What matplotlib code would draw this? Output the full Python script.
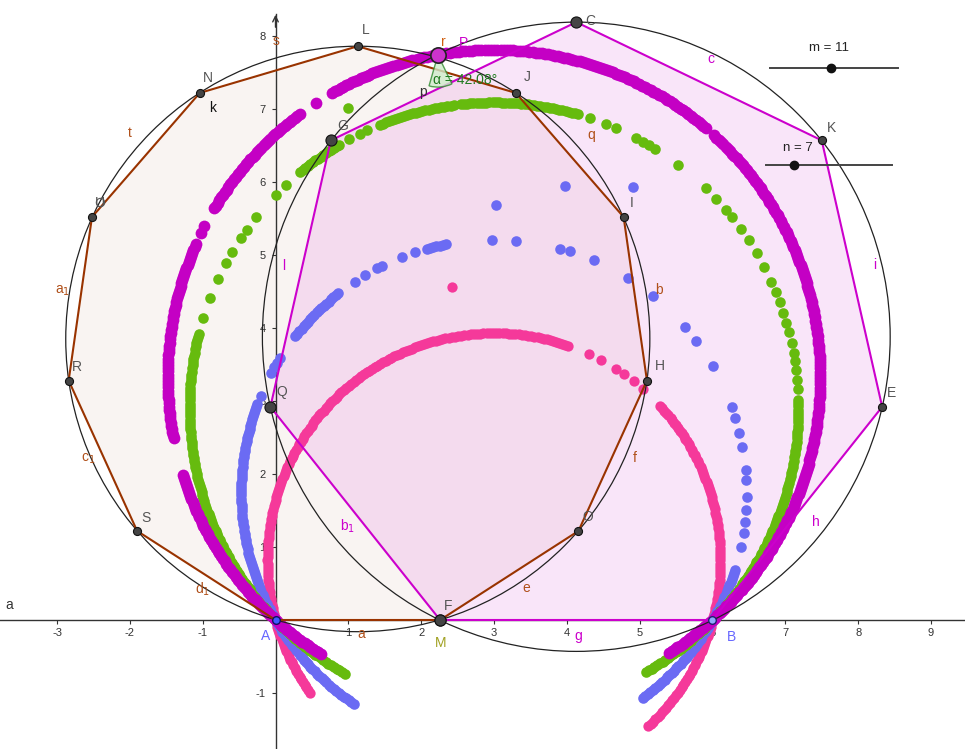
import numpy as np
import matplotlib
matplotlib.use('Agg')
import matplotlib.pyplot as plt
from matplotlib.patches import Polygon, Circle, Wedge

plt.rcParams['font.family'] = ['Liberation Sans', 'DejaVu Sans']
plt.rcParams['axes.unicode_minus'] = False

# ------------------------- data -------------------------
# regular 11-gon (m = 11) on side AF
poly11_x = [0.00, 2.26, 4.16, 5.10, 4.78, 3.30, 1.13, -1.04, -2.52, -2.84, -1.90]
poly11_y = [0.00, 0.00, 1.22, 3.28, 5.52, 7.22, 7.86, 7.22, 5.52, 3.28, 1.22]
poly11_names = ['A', 'F', 'O', 'H', 'I', 'J', 'L', 'N', 'U', 'R', 'S']
circ11 = (1.13, 3.85, 4.01)

# regular heptagon (n = 7) on side FB
poly7_x = [2.26, 6.00, 8.33, 7.50, 4.13, 0.76, -0.07]
poly7_y = [0.00, 0.00, 2.92, 6.57, 8.19, 6.57, 2.92]
poly7_names = ['F', 'B', 'E', 'K', 'C', 'G', 'Q']
circ7 = (4.13, 3.88, 4.31)

P_pt = (2.23, 7.74)
alpha_deg = 42.08

x_ticks = [-3, -2, -1, 1, 2, 3, 4, 5, 6, 7, 8, 9]
y_ticks = [-1, 1, 2, 3, 4, 5, 6, 7, 8]

# traces (loci through A and B): circle centre/radius, dense arcs (deg), single dots (deg), stray dots
mag_circle = (3.0, 3.33, 4.48)
mag_dense = [(-57.5, 48), (49.5, 120), (126.5, 149.5), (156, 191), (197.5, 238)]
mag_single = [123, 152.6, 153.8]
mag_stray_x, mag_stray_y = [], []

grn_circle = (3.0, 2.91, 4.18)
grn_dense = [(-60, 2.0), (74, 96.3), (97.6, 112.5), (120.5, 130), (166, 241)]
grn_single = [3.5, 5.2, 7.1, 8.7, 10.3, 12.2, 14.4, 16.1, 18.1, 20.3, 22.3, 24.3, 27.4,
              30.4, 33.2, 35.9, 38.6, 40.3, 43.2, 45.9, 52.7, 58.0, 59.4, 60.6, 62.1,
              66.3, 68.4, 71.7, 114.6, 116.2, 118.5, 133.2, 135.8, 141.4, 144.3, 146.3,
              149.4, 151.7, 155.1, 158.9, 162.9]
grn_stray_x, grn_stray_y = [0.99], [7.01]

blu_circle = (3.0, 1.74, 3.47)
blu_dense = [(-54, -17), (101, 105.5), (128, 142.5), (159.5, 237)]
blu_single = [-12.4, -9.1, -6.6, -3.9, -0.9, 3.0, 5.2, 10.5, 13.8, 17.3, 19.9, 30.0,
              36.9, 40.8, 51.1, 58.1, 66.8, 72.5, 74.8, 85.0, 90.5, 108.2, 111.4, 116.4,
              117.5, 120.6, 123.4, 147.8, 149.0, 150.3, 151.8, 157.4]
blu_stray_x, blu_stray_y = [3.03, 3.97, 4.91], [5.68, 5.95, 5.93]

pnk_circle = (3.0, 0.82, 3.11)
pnk_dense = [(-47, 43.4), (70.8, 216)]
pnk_single = [49.0, 51.9, 55.1, 57.5, 61.8, 65.2]
pnk_stray_x, pnk_stray_y = [2.42], [4.56]

# ------------------------------ drawing ------------------------------
W, H = 965, 749
fig = plt.figure(figsize=(W / 100, H / 100), dpi=100)
ax = fig.add_axes([0, 0, 1, 1])
X0PX, Y0PX, SX, SY = 275.5, 620.0, 72.83, 73.0
XMIN, XMAX = -X0PX / SX, (W - X0PX) / SX
YMIN, YMAX = -(H - Y0PX) / SY, Y0PX / SY
ax.set_xlim(XMIN, XMAX)
ax.set_ylim(YMIN, YMAX)


def D(px, py):
    return ((px - X0PX) / SX, (Y0PX - py) / SY)


# axes
for s in ['top', 'right']:
    ax.spines[s].set_visible(False)
ax.spines['bottom'].set_position(('data', 0))
ax.spines['left'].set_position(('data', 0))
ax.spines['left'].set_bounds(YMIN, D(0, 14)[1])
for s in ['bottom', 'left']:
    ax.spines[s].set_color('#333333')
    ax.spines[s].set_linewidth(1.0)
    ax.spines[s].set_zorder(2)
ax.set_xticks(x_ticks)
ax.set_yticks(y_ticks)
ax.set_xticklabels([str(v) for v in x_ticks])
ax.set_yticklabels([str(v) for v in y_ticks])
ax.tick_params(axis='both', direction='out', length=3, width=0.8, color='#333333',
               labelsize=8, labelcolor='#333333')
ax.tick_params(axis='x', pad=3)
ax.tick_params(axis='y', pad=4)
ax.annotate('', xy=D(275.5, 12), xytext=D(275.5, 30),
            arrowprops=dict(arrowstyle='->', color='#333333', lw=1.0, mutation_scale=10))

# polygon fills
ax.add_patch(Polygon(list(zip(poly11_x, poly11_y)), closed=True, facecolor='#993300',
                     alpha=0.05, edgecolor='none', zorder=1))
ax.add_patch(Polygon(list(zip(poly7_x, poly7_y)), closed=True, facecolor='#CC00CC',
                     alpha=0.10, edgecolor='none', zorder=1))


def draw_trace(circle, dense, single, sx, sy, color, size):
    cx, cy, r = circle
    step = np.degrees(3.2 / (r * SX))
    xs, ys = [], []
    for a0, a1 in dense:
        th = np.radians(np.arange(a0, a1 + 1e-9, step))
        xs.extend(cx + r * np.cos(th))
        ys.extend(cy + r * np.sin(th))
    th = np.radians(np.array(single, dtype=float))
    xs.extend(cx + r * np.cos(th))
    ys.extend(cy + r * np.sin(th))
    xs.extend(sx)
    ys.extend(sy)
    ax.scatter(xs, ys, s=size, color=color, linewidths=0, zorder=3)


draw_trace(pnk_circle, pnk_dense, pnk_single, pnk_stray_x, pnk_stray_y, '#F5399A', 55)
draw_trace(blu_circle, blu_dense, blu_single, blu_stray_x, blu_stray_y, '#6B6BF3', 58)
draw_trace(grn_circle, grn_dense, grn_single, grn_stray_x, grn_stray_y, '#66BB0E', 58)
draw_trace(mag_circle, mag_dense, mag_single, mag_stray_x, mag_stray_y, '#C400C4', 72)

# circumcircles
for (cx, cy, r) in [circ11, circ7]:
    ax.add_patch(Circle((cx, cy), r, fill=False, edgecolor='#222222', lw=0.9, zorder=4))

# polygon edges
ax.add_patch(Polygon(list(zip(poly11_x, poly11_y)), closed=True, fill=False,
                     edgecolor='#993300', lw=1.5, zorder=5))
ax.add_patch(Polygon(list(zip(poly7_x, poly7_y)), closed=True, fill=False,
                     edgecolor='#CC00CC', lw=1.5, zorder=5))

# angle at P
a_dir = np.degrees(np.arctan2(poly11_y[0] - P_pt[1], poly11_x[0] - P_pt[0]))
b_dir = np.degrees(np.arctan2(poly7_y[1] - P_pt[1], poly7_x[1] - P_pt[0]))
ax.add_patch(Wedge(P_pt, 0.44, a_dir, b_dir, facecolor='#CFEBCB', alpha=0.8,
                   edgecolor='#2E8B2E', lw=1.0, zorder=5))

# points
big = ['F', 'C', 'G', 'Q']
for names, xs, ys in [(poly11_names, poly11_x, poly11_y), (poly7_names, poly7_x, poly7_y)]:
    for nm, x, y in zip(names, xs, ys):
        if nm in ('A', 'B'):
            continue
        ms = 8.0 if nm in big else 5.8
        ax.plot(x, y, 'o', ms=ms, mfc='#444444', mec='#111111', mew=0.8, zorder=6)
ax.plot(poly11_x[0], poly11_y[0], 'o', ms=5.5, mfc='#3F5BFF', mec='#101060', mew=1.0, zorder=6)
ax.plot(poly7_x[1], poly7_y[1], 'o', ms=5.5, mfc='#8FA8FF', mec='#202070', mew=1.0, zorder=6)
ax.plot(*P_pt, 'o', ms=11, mfc='#CC33CC', mec='#222222', mew=1.2, zorder=6)
ax.plot(*D(100, 202), 'o', ms=6, mfc='none', mec='#555555', mew=0.8, zorder=6)

# sliders
for (x0, x1, yy, xd) in [(770, 898, 68, 831), (766, 892, 165, 794)]:
    p0, p1 = D(x0, yy), D(x1, yy)
    ax.plot([p0[0], p1[0]], [p0[1], p1[1]], color='#444444', lw=1.4, zorder=6)
    ax.plot(*D(xd, yy), 'o', ms=6, color='#111111', zorder=7)
ax.text(*D(829, 48), 'm = 11', fontsize=9.5, color='#222222', ha='center', va='center', zorder=7)
ax.text(*D(798, 148), 'n = 7', fontsize=9.5, color='#222222', ha='center', va='center', zorder=7)

# labels
GRAY = '#555555'
BROWN = '#B0501A'
MAG = '#CC00CC'
labels = [
    ('L', 366, 30, GRAY), ('N', 208, 78, GRAY), ('k', 213, 108, '#111111'),
    ('s', 276, 41, BROWN), ('t', 130, 133, BROWN), ('U', 100, 203, GRAY),
    ('a$_1$', 63, 291, BROWN), ('R', 77, 367, GRAY), ('c$_1$', 88, 459, BROWN),
    ('S', 146, 518, GRAY), ('d$_1$', 203, 589, BROWN), ('A', 266, 636, '#6666FF'),
    ('a', 361, 634, BROWN), ('F', 448, 606, GRAY), ('M', 441, 643, '#A0A020'),
    ('e', 526, 588, BROWN), ('O', 588, 517, GRAY), ('f', 635, 458, BROWN),
    ('H', 660, 366, GRAY), ('b', 659, 290, BROWN), ('I', 632, 203, GRAY),
    ('q', 591, 135, BROWN), ('J', 527, 77, GRAY), ('r', 443, 42, '#D06010'),
    ('P', 463, 43, MAG), ('p', 423, 92, '#333333'), ('G', 343, 126, GRAY),
    ('Q', 282, 392, GRAY), ('l', 284, 266, MAG), ('b$_1$', 348, 526, MAG),
    ('g', 578, 636, MAG), ('B', 731, 637, '#6666FF'), ('h', 816, 522, MAG),
    ('E', 891, 393, GRAY), ('i', 875, 265, MAG), ('K', 831, 128, GRAY),
    ('c', 711, 59, MAG), ('C', 590, 21, GRAY), ('a', 9, 605, '#333333'),
]
for t, px, py, col in labels:
    ax.text(*D(px, py), t, fontsize=10, color=col, ha='center', va='center', zorder=7)

ax.text(*D(433, 80), '\u03b1 = %.2f\u00b0' % alpha_deg, fontsize=10, color='#1E7A1E',
        ha='left', va='center', zorder=7)

fig.savefig('out.png', dpi=100)
